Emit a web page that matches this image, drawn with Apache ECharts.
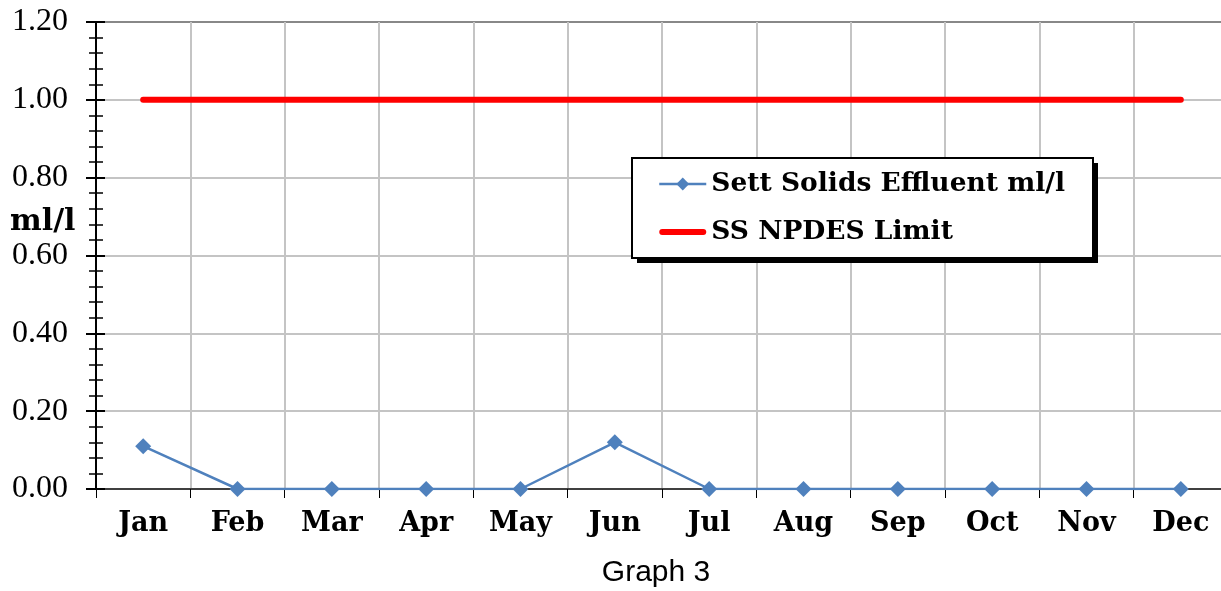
<!DOCTYPE html>
<html>
<head>
<meta charset="utf-8">
<script src="https://cdn.jsdelivr.net/npm/echarts@6/dist/echarts.min.js"></script>
<style>
  html, body { margin: 0; padding: 0; background: #fff; }
  #chart { width: 1221px; height: 591px; }
</style>
</head>
<body>
<div id="chart"></div>
<script>
const months = ['Jan', 'Feb', 'Mar', 'Apr', 'May', 'Jun', 'Jul', 'Aug', 'Sep', 'Oct', 'Nov', 'Dec']
const settSolids = [0.11, 0, 0, 0, 0, 0.12, 0, 0, 0, 0, 0, 0]
const npdesLimit = [1, 1, 1, 1, 1, 1, 1, 1, 1, 1, 1, 1]

const serifBold = '"DejaVu Serif", serif'
const chart = echarts.init(document.getElementById('chart'))

var option = {
  animation: false,
  title: {
    text: 'Graph 3',
    left: 651,
    top: 553,
    textAlign: 'center',
    textStyle: { fontFamily: '"Liberation Sans", Arial', fontSize: 30, fontWeight: 'normal', color: '#000' }
  },
  legend: {
    orient: 'vertical',
    left: 658,
    top: 170,
    padding: 0,
    itemGap: 20,
    itemWidth: 47,
    itemHeight: 16,
    z: 10,
    data: [
      { name: 'Sett Solids Effluent ml/l', itemStyle: { color: '#4f81bd' }, lineStyle: { width: 2.5, color: '#4f81bd' } },
      { name: 'SS NPDES Limit', icon: 'path://M3,0 H44 A3,3 0 0 1 44,6 H3 A3,3 0 0 1 3,0 Z', itemStyle: { color: '#ff0000' } }
    ],
    textStyle: { fontFamily: serifBold, fontWeight: 'bold', fontSize: 26.5, lineHeight: 28, color: '#000' }
  },
  grid: { left: 96, top: 22, width: 1132, height: 467, outerBoundsMode: 'none' },
  graphic: [{
    type: 'text',
    left: 10,
    top: 207,
    style: { text: 'ml/l', font: 'bold 30px "DejaVu Serif", serif', fill: '#000' }
  }, {
    type: 'rect',
    z: 3,
    shape: { x: 637, y: 163, width: 461, height: 100 },
    style: { fill: '#000' }
  }, {
    type: 'rect',
    z: 3,
    shape: { x: 632, y: 158, width: 461, height: 100 },
    style: { fill: '#fff', stroke: '#000', lineWidth: 2 }
  }],
  xAxis: {
    type: 'category',
    data: months,
    boundaryGap: true,
    axisLine: { lineStyle: { color: '#404040', width: 2 } },
    axisTick: { show: true, length: 9, lineStyle: { color: '#000', width: 1 } },
    axisLabel: { margin: 21, fontFamily: serifBold, fontWeight: 'bold', fontSize: 27, color: '#000' },
    splitLine: { show: true, lineStyle: { color: '#c4c4c4', width: 2 } }
  },
  yAxis: [{
    type: 'value',
    min: 0,
    max: 1.2,
    interval: 0.2,
    axisLine: { show: true, lineStyle: { color: '#000', width: 2 } },
    axisTick: { show: true, length: 10, lineStyle: { color: '#000', width: 2 } },
    minorTick: { show: true, splitNumber: 5, length: 7, lineStyle: { color: '#000', width: 1.5 } },
    axisLabel: {
      margin: 28,
      fontFamily: '"Liberation Serif", "Times New Roman", serif',
      fontSize: 32,
      color: '#000',
      formatter: v => v.toFixed(2)
    },
    splitLine: {
      show: true,
      lineStyle: { color: ['#c4c4c4', '#c4c4c4', '#c4c4c4', '#c4c4c4', '#c4c4c4', '#c4c4c4', '#888888'], width: 2 }
    }
  }, {
    type: 'value',
    position: 'left',
    min: 0,
    max: 1.2,
    interval: 0.2,
    axisLine: { show: false },
    axisTick: { show: true, inside: true, length: 9, lineStyle: { color: '#000', width: 2 } },
    minorTick: { show: true, splitNumber: 5, length: 7, lineStyle: { color: '#000', width: 1.5 } },
    axisLabel: { show: false },
    splitLine: { show: false }
  }],
  series: [{
    name: 'Sett Solids Effluent ml/l',
    type: 'line',
    data: settSolids,
    symbol: 'diamond',
    symbolSize: 16,
    itemStyle: { color: '#4f81bd' },
    lineStyle: { color: '#4f81bd', width: 2.5 },
    z: 3
  }, {
    name: 'SS NPDES Limit',
    type: 'line',
    data: npdesLimit,
    showSymbol: false,
    symbol: 'none',
    itemStyle: { color: '#ff0000' },
    lineStyle: { color: '#ff0000', width: 6, cap: 'round' },
    z: 2
  }]
}

option && chart.setOption(option)
</script>
</body>
</html>
